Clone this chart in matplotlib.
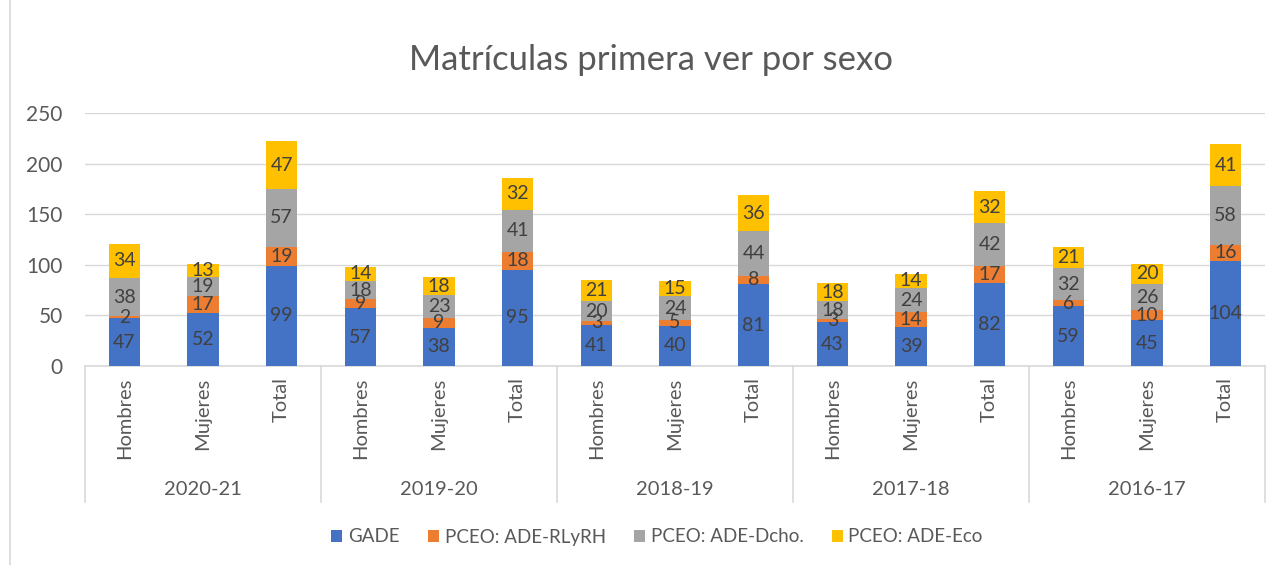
import numpy as np
import matplotlib.pyplot as plt
from matplotlib.patches import Patch
from matplotlib.lines import Line2D
from matplotlib.transforms import blended_transform_factory

plt.rcParams['font.family'] = ['Lato', 'DejaVu Sans']

years = ["2020-21", "2019-20", "2018-19", "2017-18", "2016-17"]
subcats = ["Hombres", "Mujeres", "Total"]
series_names = ["GADE", "PCEO: ADE-RLyRH", "PCEO: ADE-Dcho.", "PCEO: ADE-Eco"]
colors = ["#4472C4", "#ED7D31", "#A5A5A5", "#FFC000"]

gade = [47, 52, 99, 57, 38, 95, 41, 40, 81, 43, 39, 82, 59, 45, 104]
rlyrh = [2, 17, 19, 9, 9, 18, 3, 5, 8, 3, 14, 17, 6, 10, 16]
dcho = [38, 19, 57, 18, 23, 41, 20, 24, 44, 18, 24, 42, 32, 26, 58]
eco = [34, 13, 47, 14, 18, 32, 21, 15, 36, 18, 14, 32, 21, 20, 41]

series = [gade, rlyrh, dcho, eco]
n = len(gade)
x = np.arange(n)

fig = plt.figure(figsize=(12.82, 5.65), dpi=100)
ax = fig.add_axes([85 / 1282, 1 - 366 / 565, 1180 / 1282, 253 / 565])

bottom = np.zeros(n)
for vals, name, col in zip(series, series_names, colors):
    vals = np.array(vals, dtype=float)
    ax.bar(x, vals, 0.4, bottom=bottom, color=col, label=name, zorder=3)
    for xi, b, v in zip(x, bottom, vals):
        ax.text(xi, b + v / 2, f"{int(v)}", ha="center", va="center",
                fontsize=14, color="#404040", zorder=4)
    bottom += vals

ax.set_xlim(-0.5, n - 0.5)
ax.set_ylim(0, 250)
ax.set_yticks([0, 50, 100, 150, 200, 250])
ax.tick_params(axis="y", length=0, labelsize=15, labelcolor="#595959", pad=16)
ax.set_xticks([])
ax.grid(axis="y", color="#D9D9D9", linewidth=1, zorder=0)
for s in ["top", "right", "left"]:
    ax.spines[s].set_visible(False)
ax.spines["bottom"].set_color("#D9D9D9")
ax.spines["bottom"].set_linewidth(1.2)

trans = blended_transform_factory(ax.transData, ax.transAxes)
for i in range(n):
    ax.text(x[i], -0.045, subcats[i % 3], rotation=90, ha="center", va="top",
            fontsize=14.5, color="#595959", transform=trans, clip_on=False)
for g, yr in enumerate(years):
    ax.text(3 * g + 1, -0.49, yr, ha="center", va="center", fontsize=14.5,
            color="#595959", transform=trans, clip_on=False)
for g in range(len(years) + 1):
    ax.add_line(Line2D([3 * g - 0.5, 3 * g - 0.5], [0, -0.538], transform=trans,
                       color="#D9D9D9", linewidth=1.2, clip_on=False))

fig.text(651 / 1282, 1 - 60 / 565, "Matrículas primera ver por sexo",
         ha="center", va="center", fontsize=25, color="#595959")

handles = [Patch(facecolor=c, label=s) for s, c in zip(series_names, colors)]
fig.legend(handles=handles, loc="center", bbox_to_anchor=(657 / 1282, 1 - 537 / 565),
           ncol=4, frameon=False, fontsize=13.5, labelcolor="#595959",
           handlelength=0.6, handleheight=0.6, handletextpad=0.3, columnspacing=1.5)

fig.add_artist(Line2D([9.5 / 1282, 9.5 / 1282], [0, 1], color="#D9D9D9",
                      linewidth=1.2, transform=fig.transFigure))

fig.savefig("out.png", dpi=100)
